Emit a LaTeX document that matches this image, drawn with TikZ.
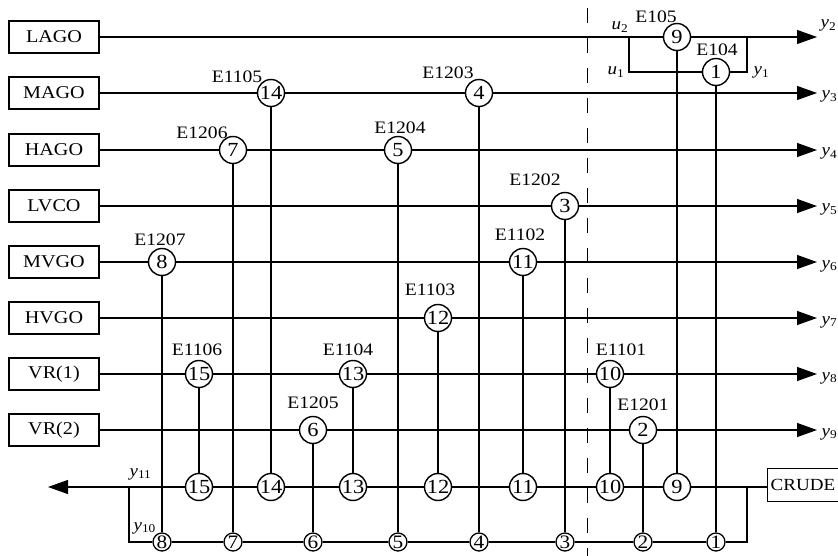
\documentclass[tikz,border=0pt]{standalone}
\usepackage{fontspec}
\setmainfont{Liberation Serif}[FakeStretch=1.12]
\usetikzlibrary{arrows.meta}
\newcommand\sv[2]{\textit{#1}\textsubscript{#2}}
\begin{document}
\begin{tikzpicture}[x=1pt,y=-1pt,line width=1.2pt,
  unit/.style={draw,rectangle,minimum width=90pt,minimum height=32pt,inner sep=0pt,font=\fontsize{18}{18}\selectfont},
  hx/.style={draw,circle,minimum size=27pt,inner sep=0pt,line width=1.4pt,font=\fontsize{20}{20}\selectfont},
  hs/.style={draw,circle,minimum size=18pt,inner sep=0pt,line width=1.3pt,font=\fontsize{19}{19}\selectfont},
  tag/.style={inner sep=0pt,font=\fontsize{17.5}{17.5}\selectfont},
  var/.style={inner sep=0pt,anchor=base west,font=\fontsize{17}{17}\selectfont},
  flow/.style={-{Triangle[length=20pt,width=14pt]}}]
\useasboundingbox (0,0) rectangle (838,556);
\node[unit] (lago) at (54,37) {LAGO};
\node[unit] (mago) at (54,93) {MAGO};
\node[unit] (hago) at (54,150) {HAGO};
\node[unit] (lvco) at (54,206) {LVCO};
\node[unit] (mvgo) at (54,262) {MVGO};
\node[unit] (hvgo) at (54,318) {HVGO};
\node[unit] (vra) at (54,374) {VR(1)};
\node[unit] (vrb) at (54,430) {VR(2)};
\node[unit,anchor=west,minimum width=0pt,inner xsep=3pt,minimum height=33pt,font=\fontsize{17}{17}\selectfont] (crude) at (767,485) {CRUDE};
\node[hx] (p9) at (677,37) {9};
\node[hx] (p1) at (716,72) {1};
\node[hx] (p14) at (271,93) {14};
\node[hx] (p4) at (479,93) {4};
\node[hx] (p7) at (233,150) {7};
\node[hx] (p5) at (398,150) {5};
\node[hx] (p3) at (565,206) {3};
\node[hx] (p8) at (162,262) {8};
\node[hx] (p11) at (523,262) {11};
\node[hx] (p12) at (438,318) {12};
\node[hx] (p15) at (199,374) {15};
\node[hx] (p13) at (353,374) {13};
\node[hx] (p10) at (610,374) {10};
\node[hx] (p6) at (313,430) {6};
\node[hx] (p2) at (643,430) {2};
\foreach \n/\x in {9/677,10/610,11/523,12/438,13/353,14/271,15/199}
  \node[hx] (c\n) at (\x,487) {\n};
\foreach \n/\x in {1/716,2/643,3/565,4/479,5/398,6/313,7/233,8/162}
  \node[hs] (b\n) at (\x,542) {\n};
\node[tag] (e9) at (656,17) {E105};
\node[tag] (e1) at (717,50) {E104};
\node[tag] (e14) at (237,77) {E1105};
\node[tag] (e4) at (448,73) {E1203};
\node[tag] (e7) at (202,133) {E1206};
\node[tag] (e5) at (400,128) {E1204};
\node[tag] (e3) at (535,180) {E1202};
\node[tag] (e8) at (160,240) {E1207};
\node[tag] (e11) at (520,235) {E1102};
\node[tag] (e12) at (430,290) {E1103};
\node[tag] (e15) at (197,350) {E1106};
\node[tag] (e13) at (348,350) {E1104};
\node[tag] (e10) at (621,350) {E1101};
\node[tag] (e6) at (313,403) {E1205};
\node[tag] (e2) at (643,405) {E1201};
\coordinate (o2) at (817,37);
\coordinate (o3) at (817,93);
\coordinate (o4) at (817,150);
\coordinate (o5) at (817,206);
\coordinate (o6) at (817,262);
\coordinate (o7) at (817,318);
\coordinate (o8) at (817,374);
\coordinate (o9) at (817,430);
\coordinate (u2) at (629,37);
\coordinate (y1) at (747,37);
\coordinate (left) at (48,487);
\coordinate (jl) at (129,487);
\coordinate (jr) at (747,487);
\coordinate (dtop) at (587,8);
\coordinate (dbot) at (587,556);
\draw[flow] (lago) -- (p9) -- (o2);
\draw[flow] (mago) -- (p14) -- (p4) -- (o3);
\draw[flow] (hago) -- (p7) -- (p5) -- (o4);
\draw[flow] (lvco) -- (p3) -- (o5);
\draw[flow] (mvgo) -- (p8) -- (p11) -- (o6);
\draw[flow] (hvgo) -- (p12) -- (o7);
\draw[flow] (vra) -- (p15) -- (p13) -- (p10) -- (o8);
\draw[flow] (vrb) -- (p6) -- (p2) -- (o9);
\draw (u2) |- (p1) -| (y1);
\draw[flow] (crude.west |- c9) -- (c9) -- (c10) -- (c11) -- (c12) -- (c13) -- (c14) -- (c15) -- (left);
\draw (jr) |- (b1) -- (b2) -- (b3) -- (b4) -- (b5) -- (b6) -- (b7) -- (b8) -| (jl);
\foreach \n in {9,...,15} \draw (p\n) -- (c\n);
\foreach \n in {1,...,8} \draw (p\n) -- (b\n);
\draw[line width=0.9pt,dash pattern=on 15pt off 15pt] (dtop) -- (dbot);
\node[var] (ly2) at (820,28) {\sv{y}{2}};
\node[var] (ly3) at (821,99) {\sv{y}{3}};
\node[var] (ly4) at (821,156) {\sv{y}{4}};
\node[var] (ly5) at (821,212) {\sv{y}{5}};
\node[var] (ly6) at (821,268) {\sv{y}{6}};
\node[var] (ly7) at (821,324) {\sv{y}{7}};
\node[var] (ly8) at (821,380) {\sv{y}{8}};
\node[var] (ly9) at (821,436) {\sv{y}{9}};
\node[var] (ly1) at (753,75) {\sv{y}{1}};
\node[var] (lu2) at (611,30) {\sv{u}{2}};
\node[var] (lu1) at (607,75) {\sv{u}{1}};
\node[var] (ly11) at (129,476) {\sv{y}{11}};
\node[var] (ly10) at (133,530) {\sv{y}{10}};
\end{tikzpicture}
\end{document}
